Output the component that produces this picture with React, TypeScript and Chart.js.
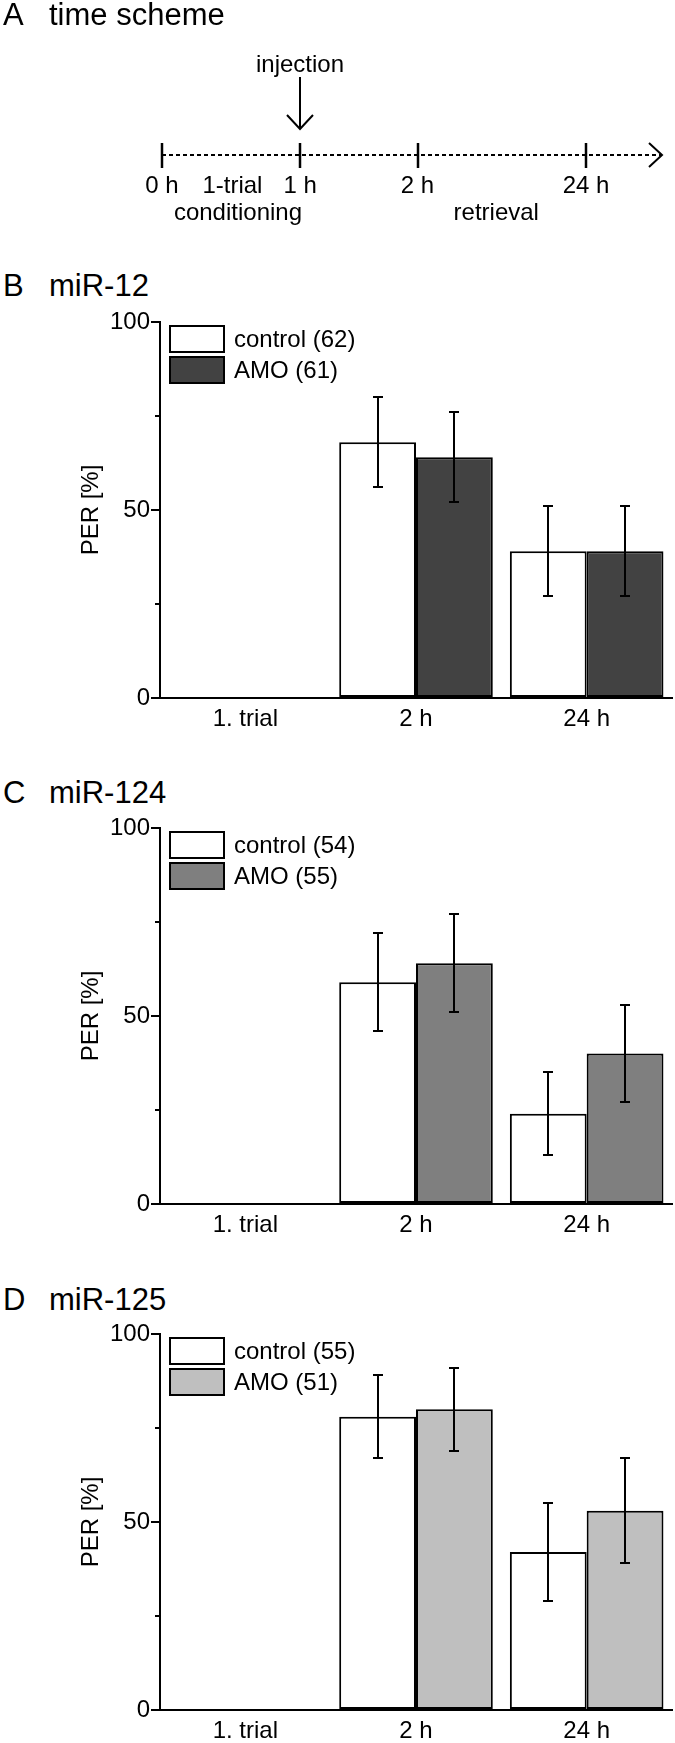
import React, { useEffect, useRef } from 'react';
import { Chart, registerables } from 'chart.js';

Chart.register(...registerables);

const FONT = "'Liberation Sans', Arial, Helvetica, sans-serif";

// ---- Panel A: time scheme (schematic positions, 1 unit = 0 h -> 1 h) ----
const schemeTimeLabels = ['0 h', '1 h', '2 h', '24 h'];
const schemeTimePos = [0, 1, 1.85, 3.07];
const schemeEnd = 3.62;
const schemePhaseLabels = ['1-trial', 'conditioning', 'retrieval'];
const schemePhasePos = [0.51, 0.55, 2.42];
const schemePhaseRow = [1, 2, 2];
const injectionLabel = 'injection';
const injectionPos = 1;

// ---- Bar panels ----
const categories = ['1. trial', '2 h', '24 h'];

const miR12Control = [null, 68, 39];
const miR12ControlErr = [null, 12, 12];
const miR12Amo = [null, 64, 39];
const miR12AmoErr = [null, 12, 12];
const miR12Legend = ['control (62)', 'AMO (61)'];

const miR124Control = [null, 59, 24];
const miR124ControlErr = [null, 13, 11];
const miR124Amo = [null, 64, 40];
const miR124AmoErr = [null, 13, 13];
const miR124Legend = ['control (54)', 'AMO (55)'];

const miR125Control = [null, 78, 42];
const miR125ControlErr = [null, 11, 13];
const miR125Amo = [null, 80, 53];
const miR125AmoErr = [null, 11, 14];
const miR125Legend = ['control (55)', 'AMO (51)'];

const yMajorTicks = [0, 50, 100];
const yMinorTicks = [25, 75];

const errorBarsPlugin = {
  id: 'errorBars',
  afterDatasetsDraw(chart: any) {
    const ctx = chart.ctx;
    const y = chart.scales.y;
    ctx.save();
    ctx.strokeStyle = '#000';
    ctx.lineWidth = 2;
    chart.data.datasets.forEach((ds: any, i: number) => {
      const meta = chart.getDatasetMeta(i);
      meta.data.forEach((el: any, j: number) => {
        const v = ds.data[j];
        const e = ds.errors ? ds.errors[j] : null;
        if (v == null || e == null) return;
        const yt = Math.round(y.getPixelForValue(v + e));
        const yb = Math.round(y.getPixelForValue(v - e));
        const x = Math.round(el.x);
        ctx.beginPath();
        ctx.moveTo(x, yt);
        ctx.lineTo(x, yb);
        ctx.moveTo(x - 5, yt);
        ctx.lineTo(x + 5, yt);
        ctx.moveTo(x - 5, yb);
        ctx.lineTo(x + 5, yb);
        ctx.stroke();
      });
    });
    ctx.restore();
  },
};

const minorTicksPlugin = {
  id: 'minorTicks',
  afterDraw(chart: any) {
    const ctx = chart.ctx;
    const y = chart.scales.y;
    const x0 = chart.chartArea.left;
    ctx.save();
    ctx.strokeStyle = '#000';
    ctx.lineWidth = 2;
    yMinorTicks.forEach((v) => {
      const py = Math.round(y.getPixelForValue(v));
      ctx.beginPath();
      ctx.moveTo(x0 - 5, py);
      ctx.lineTo(x0, py);
      ctx.stroke();
    });
    ctx.restore();
  },
};

const boxLegendPlugin = {
  id: 'boxLegend',
  afterDatasetsDraw(chart: any) {
    const ctx = chart.ctx;
    const area = chart.chartArea;
    ctx.save();
    chart.data.datasets.forEach((ds: any, i: number) => {
      const bx = area.left + 10;
      const by = area.top + 4 + i * 31;
      ctx.fillStyle = ds.backgroundColor;
      ctx.fillRect(bx, by, 54, 26);
      ctx.strokeStyle = '#000';
      ctx.lineWidth = 2;
      ctx.strokeRect(bx, by, 54, 26);
      ctx.fillStyle = '#000';
      ctx.font = `24px ${FONT}`;
      ctx.textAlign = 'left';
      ctx.textBaseline = 'middle';
      ctx.fillText(ds.label, bx + 64, by + 14);
    });
    ctx.restore();
  },
};

const schemePlugin = {
  id: 'scheme',
  afterDatasetsDraw(chart: any) {
    const ctx = chart.ctx;
    const xs = chart.scales.x;
    const ys = chart.scales.y;
    const yc = Math.round(ys.getPixelForValue(0));
    ctx.save();
    ctx.strokeStyle = '#000';
    ctx.fillStyle = '#000';
    ctx.lineWidth = 2.5;
    // ticks
    schemeTimePos.forEach((p) => {
      const px = Math.round(xs.getPixelForValue(p));
      ctx.beginPath();
      ctx.moveTo(px, yc - 12);
      ctx.lineTo(px, yc + 13);
      ctx.stroke();
    });
    // arrow head at end
    const tip = xs.getPixelForValue(schemeEnd);
    ctx.lineWidth = 2;
    ctx.beginPath();
    ctx.moveTo(tip - 13, yc - 12);
    ctx.lineTo(tip, yc);
    ctx.lineTo(tip - 13, yc + 12);
    ctx.stroke();
    // labels
    ctx.font = `24px ${FONT}`;
    ctx.textAlign = 'center';
    ctx.textBaseline = 'alphabetic';
    schemeTimeLabels.forEach((t, i) => {
      ctx.fillText(t, xs.getPixelForValue(schemeTimePos[i]), yc + 38);
    });
    schemePhaseLabels.forEach((t, i) => {
      const row = schemePhaseRow[i];
      ctx.fillText(t, xs.getPixelForValue(schemePhasePos[i]), yc + (row === 1 ? 38 : 65));
    });
    // injection
    const ix = Math.round(xs.getPixelForValue(injectionPos));
    ctx.fillText(injectionLabel, ix, yc - 83);
    ctx.beginPath();
    ctx.moveTo(ix, yc - 78);
    ctx.lineTo(ix, yc - 26);
    ctx.stroke();
    ctx.beginPath();
    ctx.moveTo(ix - 13, yc - 40);
    ctx.lineTo(ix, yc - 26);
    ctx.lineTo(ix + 13, yc - 40);
    ctx.stroke();
    ctx.restore();
  },
};

function SchemePanel({ top }: { top: number }) {
  const ref = useRef<HTMLCanvasElement | null>(null);
  useEffect(() => {
    if (!ref.current) return;
    const chart = new Chart(ref.current, {
      type: 'scatter',
      data: {
        datasets: [
          {
            data: [
              { x: 0, y: 0 },
              { x: schemeEnd, y: 0 },
            ],
            showLine: true,
            borderColor: '#000',
            borderWidth: 2,
            borderDash: [4, 3],
            pointRadius: 0,
          } as any,
        ],
      },
      options: {
        responsive: false,
        animation: false,
        layout: { padding: { left: 162, right: 13, top: 70, bottom: 0 } },
        plugins: { legend: { display: false }, tooltip: { enabled: false } },
        scales: {
          x: { type: 'linear', display: false, min: 0, max: schemeEnd },
          y: { type: 'linear', display: false, min: -1, max: 1 },
        },
      },
      plugins: [schemePlugin],
    });
    return () => chart.destroy();
  }, []);
  return (
    <canvas
      ref={ref}
      width={675}
      height={240}
      style={{ position: 'absolute', left: 0, top, width: 675, height: 240 }}
    />
  );
}

function BarPanel(props: {
  top: number;
  control: (number | null)[];
  controlErr: (number | null)[];
  amo: (number | null)[];
  amoErr: (number | null)[];
  legend: string[];
  amoColor: string;
}) {
  const ref = useRef<HTMLCanvasElement | null>(null);
  useEffect(() => {
    if (!ref.current) return;
    const tickFont = { family: FONT, size: 24 };
    const chart = new Chart(ref.current, {
      type: 'bar',
      data: {
        labels: categories,
        datasets: [
          {
            label: props.legend[0],
            data: props.control,
            errors: props.controlErr,
            backgroundColor: '#ffffff',
            borderColor: '#000',
            borderWidth: 2,
            borderSkipped: false,
            categoryPercentage: 0.9,
            barPercentage: 1.0,
          } as any,
          {
            label: props.legend[1],
            data: props.amo,
            errors: props.amoErr,
            backgroundColor: props.amoColor,
            borderColor: '#000',
            borderWidth: 2,
            borderSkipped: false,
            categoryPercentage: 0.9,
            barPercentage: 1.0,
          } as any,
        ],
      },
      options: {
        responsive: false,
        animation: false,
        layout: { padding: { left: 77, right: 3, top: 22, bottom: 0 } },
        plugins: { legend: { display: false }, tooltip: { enabled: false } },
        scales: {
          x: {
            type: 'category',
            grid: { display: false, drawTicks: false },
            border: { display: true, color: '#000', width: 2 },
            ticks: { color: '#000', font: tickFont, padding: 7, maxRotation: 0, autoSkip: false },
            afterFit: (s: any) => {
              s.height = 32;
            },
          },
          y: {
            type: 'linear',
            min: 0,
            max: 100,
            afterBuildTicks: (s: any) => {
              s.ticks = yMajorTicks.map((v) => ({ value: v }));
            },
            ticks: { color: '#000', font: tickFont, padding: 1 },
            grid: {
              display: true,
              drawOnChartArea: false,
              drawTicks: true,
              tickLength: 9,
              lineWidth: 2,
              color: '#000',
            },
            border: { display: true, color: '#000', width: 2 },
            title: {
              display: true,
              text: 'PER [%]',
              color: '#000',
              font: tickFont,
              padding: { top: 0, bottom: 0 },
            },
            afterFit: (s: any) => {
              s.width = 83;
            },
          },
        },
      } as any,
      plugins: [errorBarsPlugin, minorTicksPlugin, boxLegendPlugin],
    });
    return () => chart.destroy();
  }, []);
  return (
    <canvas
      ref={ref}
      width={675}
      height={430}
      style={{ position: 'absolute', left: 0, top: props.top, width: 675, height: 430 }}
    />
  );
}

function PanelTitle({ top, letter, text }: { top: number; letter: string; text: string }) {
  const style: React.CSSProperties = {
    position: 'absolute',
    top,
    font: `31px ${FONT}`,
    lineHeight: '31px',
    whiteSpace: 'nowrap',
    color: '#000',
  };
  return (
    <>
      <div style={{ ...style, left: 3 }}>{letter}</div>
      <div style={{ ...style, left: 49 }}>{text}</div>
    </>
  );
}

export default function App() {
  return (
    <div
      style={{
        position: 'absolute',
        left: 0,
        top: 0,
        width: 675,
        height: 1743,
        overflow: 'hidden',
        background: '#fff',
      }}
    >
      <SchemePanel top={0} />
      <PanelTitle top={-1} letter="A" text="time scheme" />

      <PanelTitle top={270} letter="B" text="miR-12" />
      <BarPanel
        top={300}
        control={miR12Control}
        controlErr={miR12ControlErr}
        amo={miR12Amo}
        amoErr={miR12AmoErr}
        legend={miR12Legend}
        amoColor="#424242"
      />

      <PanelTitle top={777} letter="C" text="miR-124" />
      <BarPanel
        top={806}
        control={miR124Control}
        controlErr={miR124ControlErr}
        amo={miR124Amo}
        amoErr={miR124AmoErr}
        legend={miR124Legend}
        amoColor="#7f7f7f"
      />

      <PanelTitle top={1284} letter="D" text="miR-125" />
      <BarPanel
        top={1312}
        control={miR125Control}
        controlErr={miR125ControlErr}
        amo={miR125Amo}
        amoErr={miR125AmoErr}
        legend={miR125Legend}
        amoColor="#bfbfbf"
      />
    </div>
  );
}
